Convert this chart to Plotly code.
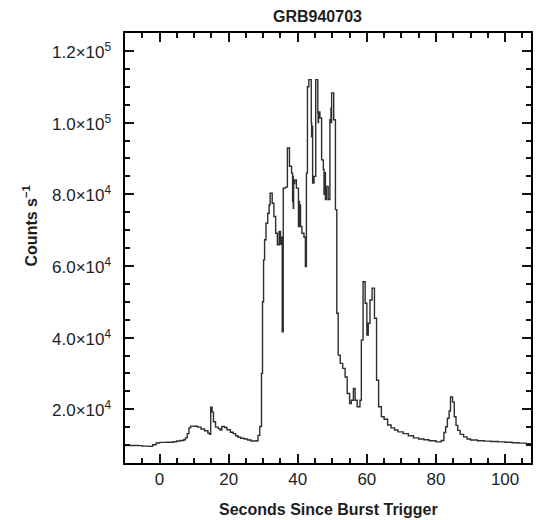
import plotly.graph_objects as go

# Light curve (step, left edge of each bin)
time_s = [-10, -8, -6, -5, -3, -2, -1, 0, 2, 4, 5, 6, 7, 7.5, 8, 8.5, 9, 10, 11, 12, 13, 14, 14.5,
          14.8, 15.2, 15.6, 16.2, 17, 17.5, 18, 18.8, 19.5, 20.5, 21.3, 22, 22.7, 23.5, 24.5, 25.5,
          26.5, 28, 28.5, 29, 29.5, 29.8, 30.1, 30.4, 30.8, 31.3, 31.7, 32.0, 32.6, 33.1, 33.6,
          34.1, 34.6, 35.0, 35.3, 35.5, 35.8, 36.4, 37.0, 37.6, 38.2, 38.5, 38.6, 38.7, 38.8,
          39.1, 39.6, 40.2, 40.4, 40.5, 40.7, 40.8, 41.2, 41.8, 42.2, 42.5, 42.8, 43.2, 43.9,
          44.0, 44.1, 44.3, 44.7, 45.2, 45.8, 45.9, 46.0, 46.4, 46.9, 47.4, 47.6, 47.8, 48.0,
          48.3, 48.8, 49.3, 49.6, 49.7, 49.8, 50.4, 50.9, 51.3, 51.7, 52.3, 53.0, 53.7, 54.3,
          55.0, 55.5, 56.1, 56.6, 57.2, 58.0, 58.4, 58.9, 59.5, 60.0, 60.4, 60.9, 61.5, 62.2,
          62.8, 63.4, 64.2, 65, 66, 67, 68, 69, 70.5, 72, 73.5, 75, 76.5, 78, 80, 81.5, 82.3,
          82.8, 83.3, 83.8, 84.2, 84.8, 85.3, 85.8, 86.3, 87, 88, 89, 90, 92, 94, 96, 98, 100,
          102, 104, 106, 107.5]
counts = [9900, 9900, 9850, 9700, 9650, 10100, 10600, 10750, 10800, 10950, 11150, 11300, 11500,
          12000, 13200, 14800, 15300, 15250, 15000, 14500, 14000, 13300, 13000,
          20600, 19200, 16500, 15000, 14600, 14200, 15200, 14900, 14300, 13600, 13200, 12600,
          12200, 11900, 11700, 11400, 11150, 11200, 12700, 15200, 30000, 50000, 61700, 67300,
          71900, 74700, 77000, 80300, 77500, 73800, 69100, 65900, 69600, 66000, 68000, 41600,
          81700, 82000, 92900, 87800, 85900, 78000, 85000, 76100, 83000, 84000, 81700, 71000,
          78000, 72000, 77000, 71000, 69100, 68000, 59800, 85900, 110000, 112000, 100000,
          96000, 99000, 83100, 85000, 112000, 102700, 100000, 103000, 101300, 89600, 86900,
          80000, 86000, 78500, 82200, 78500, 100800, 104000, 100000, 108300, 100800, 75700,
          46800, 35100, 32800, 31400, 29000, 24400, 21600, 22500, 25800, 22500, 20700, 22500,
          39300, 55600, 49600, 40700, 44000, 50500, 53800, 45400, 28100, 20700, 17900, 17200,
          15600, 14800, 14200, 13700, 13200, 12600, 12000, 11700, 11500, 11200, 10900, 11300,
          13500, 15100, 17500, 19500, 23400, 22000, 17900, 15500, 14100, 13000, 12300, 11700,
          11400, 11200, 11100, 11000, 10900, 10800, 10650, 10550, 10400, 10300]

y_ticks = [20000, 40000, 60000, 80000, 100000, 120000]
y_tick_labels = ["2.0×10<sup>4</sup>", "4.0×10<sup>4</sup>", "6.0×10<sup>4</sup>",
                 "8.0×10<sup>4</sup>", "1.0×10<sup>5</sup>", "1.2×10<sup>5</sup>"]

title_text = "GRB940703"
x_title = "Seconds Since Burst Trigger"
y_title = "Counts s<sup>−1</sup>"

W, H = 537, 520
L, R, T, B = 125, 4, 33, 57
pw, ph = W - L - R, H - T - B
INK = "#1e1e1e"
TICK = "#111111"

def px_x(p):
    return (p - L) / pw

def px_y(p):
    return (H - B - p) / ph

fig = go.Figure()
fig.add_trace(go.Scatter(x=time_s, y=counts, mode="lines", line_shape="hv",
                         line=dict(color="#2e2e2e", width=1.4), showlegend=False))

bold_font = dict(family="Liberation Sans, Arial, sans-serif", size=16, color=INK)

fig.update_layout(
    width=W, height=H,
    margin=dict(l=L, r=R, t=T, b=B, pad=0),
    paper_bgcolor="white", plot_bgcolor="white",
    font=dict(family="Liberation Sans, Arial, sans-serif", size=17, color=INK),
    xaxis=dict(range=[-10, 107.5], tickmode="linear", tick0=0, dtick=20,
               ticks="inside", ticklen=9, tickwidth=2, tickcolor=TICK,
               minor=dict(tickmode="linear", tick0=0, dtick=5, ticks="inside",
                          ticklen=5, tickwidth=2, tickcolor=TICK, showgrid=False),
               showline=True, linecolor="black", linewidth=1.5, mirror="allticks",
               showgrid=False, zeroline=False),
    yaxis=dict(range=[5000, 125000], tickmode="linear", tick0=0, dtick=20000,
               showticklabels=False,
               ticks="inside", ticklen=9, tickwidth=2, tickcolor=TICK,
               minor=dict(dtick=5000, ticks="inside",
                          ticklen=5, tickwidth=2, tickcolor=TICK, showgrid=False),
               showline=True, linecolor="black", linewidth=1.5, mirror="allticks",
               showgrid=False, zeroline=False),
)

# y tick labels written beside the axis
for v, lab in zip(y_ticks, y_tick_labels):
    fig.add_annotation(text=lab, x=0, y=v, xref="paper", yref="y", xshift=-12,
                       showarrow=False, xanchor="right", yanchor="middle",
                       font=dict(family="Liberation Sans, Arial, sans-serif", size=17,
                                 color=INK))

fig.add_annotation(text="<b>" + title_text + "</b>", x=px_x(318), y=px_y(17),
                   xref="paper", yref="paper", showarrow=False,
                   xanchor="center", yanchor="middle", font=bold_font)
fig.add_annotation(text="<b>" + x_title + "</b>", x=px_x(329), y=px_y(509),
                   xref="paper", yref="paper", showarrow=False,
                   xanchor="center", yanchor="middle", font=bold_font)
fig.add_annotation(text="<b>" + y_title + "</b>", x=px_x(30), y=px_y(226),
                   xref="paper", yref="paper", showarrow=False, textangle=-90,
                   xanchor="center", yanchor="middle", font=bold_font)

fig.write_html("out.html")
